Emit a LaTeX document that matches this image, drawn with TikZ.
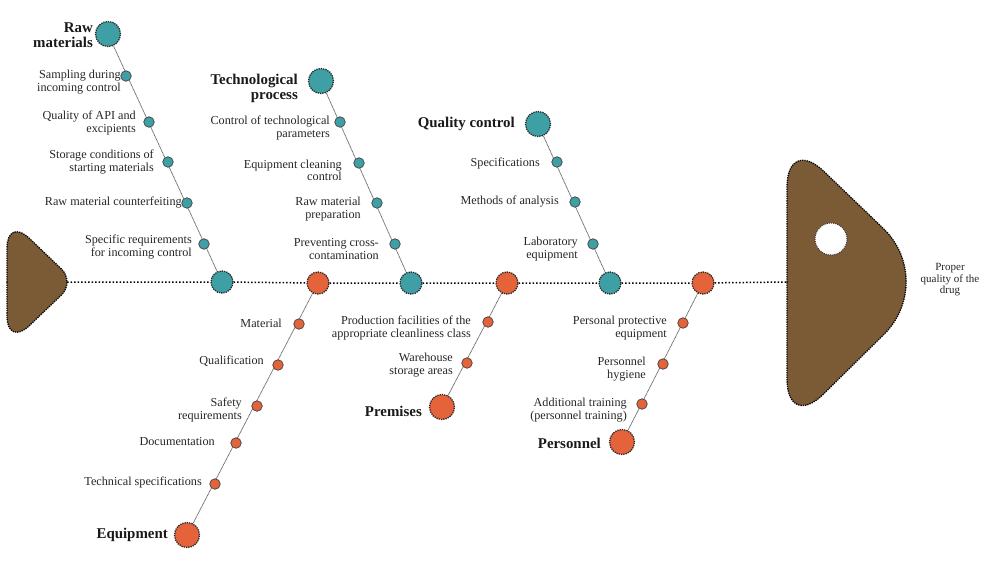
\documentclass[tikz,border=0pt]{standalone}
\usepackage{fontspec}
\setmainfont{Liberation Serif}
\usetikzlibrary{backgrounds}
\definecolor{tealc}{HTML}{3E9FA5}
\definecolor{orangec}{HTML}{E5633A}
\definecolor{brownc}{HTML}{7B5A36}
\begin{document}
\begin{tikzpicture}[x=1pt,y=-1pt,
  spinenode/.style={circle,minimum size=22pt,inner sep=0pt,draw=black!85,densely dotted,line width=1.3pt},
  endnode/.style={circle,minimum size=25pt,inner sep=0pt,draw=black!85,densely dotted,line width=1.3pt},
  subnode/.style={circle,minimum size=10.5pt,inner sep=0pt,draw=black!75,line width=0.7pt},
  tl/.style={fill=tealc},
  ol/.style={fill=orangec},
  lbl/.style={anchor=east,align=right,inner sep=0pt,font=\fontsize{12.2}{12.3}\selectfont,text=black!85},
  ttl/.style={anchor=east,align=right,inner sep=0pt,font=\fontsize{14.9}{15}\selectfont\bfseries,text=black!90},
  branch/.style={draw=gray!70,line width=0.8pt,postaction={draw=black!80,densely dotted,line width=0.45pt}},
  spineline/.style={draw=black,dotted,line width=1.5pt},
  fishpart/.style={fill=brownc,draw=black,densely dotted,line width=1.3pt}
]
\useasboundingbox (0,0) rectangle (1000,579);

% tail
\draw[fishpart] (7,282) [rounded corners=31pt] -- (7,217) [rounded corners=19pt] -- (75,282) [rounded corners=31pt] -- (7,347) [sharp corners] -- cycle;
\coordinate (tailtip) at (67,282);
% head
\draw[fishpart] (787,282) [rounded corners=51pt] -- (787,136) [rounded corners=76pt] -- (938,281) [rounded corners=51pt] -- (787,430) [sharp corners] -- cycle;
\coordinate (headedge) at (787,282);
\node[circle,minimum size=32pt,inner sep=0pt,fill=white,draw=black!80,densely dotted,line width=1pt] (hole) at (831,239) {};
\node[align=center,inner sep=0pt,font=\fontsize{11}{11.5}\selectfont,text=black!85] (result) at (950,280) {Proper\\quality of the\\drug};

% spine nodes
\node[spinenode,tl] (s1) at (222,282) {};
\node[spinenode,ol] (s2) at (318,283) {};
\node[spinenode,tl] (s3) at (411,283) {};
\node[spinenode,ol] (s4) at (507,283) {};
\node[spinenode,tl] (s5) at (610,283) {};
\node[spinenode,ol] (s6) at (703,283) {};

% Raw materials
\node[endnode,tl] (rm) at (108,34) {};
\node[ttl] (rmt) at (93,35) {Raw\\materials};
\node[subnode,tl] (rm1) at (126,76) {};
\node[subnode,tl] (rm2) at (149,122) {};
\node[subnode,tl] (rm3) at (168,162) {};
\node[subnode,tl] (rm4) at (187,203) {};
\node[subnode,tl] (rm5) at (204,244) {};
\node[lbl] at (121,82) {Sampling during\\incoming control};
\node[lbl] at (136,123) {Quality of API and\\excipients};
\node[lbl] at (154,162) {Storage conditions of\\starting materials};
\node[lbl] at (182,203) {Raw material counterfeiting};
\node[lbl] at (192,247) {Specific requirements\\for incoming control};

% Technological process
\node[endnode,tl] (tp) at (321,81) {};
\node[ttl] (tpt) at (298,88) {Technological\\process};
\node[subnode,tl] (tp1) at (340,122) {};
\node[subnode,tl] (tp2) at (359,163) {};
\node[subnode,tl] (tp3) at (377,203) {};
\node[subnode,tl] (tp4) at (395,244) {};
\node[lbl] at (330,128) {Control of technological\\parameters};
\node[lbl] at (342,170) {Equipment cleaning\\control};
\node[lbl] at (361,209) {Raw material\\preparation};
\node[lbl] at (379,249) {Preventing cross-\\contamination};

% Quality control
\node[endnode,tl] (qc) at (538,124) {};
\node[ttl] (qct) at (515,124) {Quality control};
\node[subnode,tl] (qc1) at (557,162) {};
\node[subnode,tl] (qc2) at (575,202) {};
\node[subnode,tl] (qc3) at (593,244) {};
\node[lbl] at (540,163) {Specifications};
\node[lbl] at (559,202) {Methods of analysis};
\node[lbl] at (578,249) {Laboratory\\equipment};

% Equipment
\node[endnode,ol] (eq) at (187,535) {};
\node[ttl] (eqt) at (168,535) {Equipment};
\node[subnode,ol] (eq1) at (299,324) {};
\node[subnode,ol] (eq2) at (278,365) {};
\node[subnode,ol] (eq3) at (257,406) {};
\node[subnode,ol] (eq4) at (236,443) {};
\node[subnode,ol] (eq5) at (215,484) {};
\node[lbl] at (282,323) {Material};
\node[lbl] at (264,361) {Qualification};
\node[lbl] at (242,410) {Safety\\requirements};
\node[lbl] at (215,442) {Documentation};
\node[lbl] at (202,482) {Technical specifications};

% Premises
\node[endnode,ol] (pr) at (442,407) {};
\node[ttl] (prt) at (422,411) {Premises};
\node[subnode,ol] (pr1) at (488,322) {};
\node[subnode,ol] (pr2) at (467,363) {};
\node[lbl] at (471,328) {Production facilities of the\\appropriate cleanliness class};
\node[lbl] at (453,365) {Warehouse\\storage areas};

% Personnel
\node[endnode,ol] (pe) at (622,442) {};
\node[ttl] (pet) at (601,443) {Personnel};
\node[subnode,ol] (pe1) at (683,323) {};
\node[subnode,ol] (pe2) at (663,364) {};
\node[subnode,ol] (pe3) at (642,404) {};
\node[lbl] at (667,328) {Personal protective\\equipment};
\node[lbl] at (646,369) {Personnel\\hygiene};
\node[lbl] at (627,410) {Additional training\\(personnel training)};

\begin{pgfonlayer}{background}
  \draw[spineline] (tailtip) -- (s1) -- (s2) -- (s3) -- (s4) -- (s5) -- (s6) -- (headedge);
  \draw[branch] (s1) -- (rm);
  \draw[branch] (s3) -- (tp);
  \draw[branch] (s5) -- (qc);
  \draw[branch] (s2) -- (eq);
  \draw[branch] (s4) -- (pr);
  \draw[branch] (s6) -- (pe);
\end{pgfonlayer}
\end{tikzpicture}
\end{document}
